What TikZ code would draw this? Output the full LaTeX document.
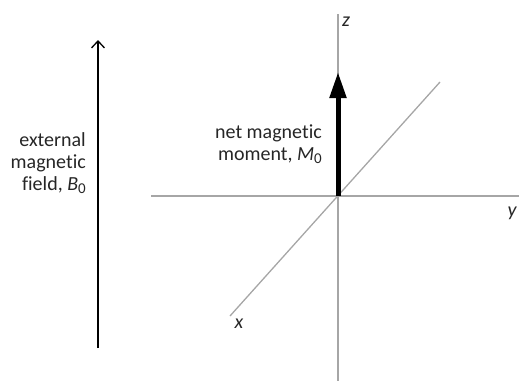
\documentclass[tikz,border=0pt]{standalone}
\usepackage{fontspec}
\setmainfont{Carlito}[Ligatures=NoCommon]
\usetikzlibrary{arrows.meta}
\newcommand{\subnum}[1]{\raisebox{-0.3ex}{\fontsize{15}{15}\selectfont #1}}
\tikzset{
  axisline/.style={draw=gray!70, line width=1.3pt},
  fieldarrow/.style={draw=black, line width=1.3pt, -{Straight Barb[length=7pt, width=13pt, line width=1.3pt]}},
  momentarrow/.style={draw=black, line width=5pt, -{Triangle[length=26pt, width=16pt]}},
  lbl/.style={inner sep=0pt, text=black!85, font=\fontsize{20}{22.3}\selectfont, align=right},
  axlbl/.style={inner sep=0pt, text=black!85, font=\fontsize{20}{23}\selectfont\itshape}
}
\begin{document}
\begin{tikzpicture}[x=1pt, y=-1pt]
  \useasboundingbox (0,0) rectangle (519,381);
  % 1. key points of the frame
  \coordinate (O) at (338,196);
  \coordinate (zTop) at (338,14);
  \coordinate (zBot) at (338,381);
  \coordinate (yLeft) at (151,196);
  \coordinate (yRight) at (519,196);
  \coordinate (xEnd) at (230,316);
  \coordinate (xBack) at (440,82);
  \coordinate (Mtip) at (338,72);
  \coordinate (Bbot) at (98,348);
  \coordinate (Btop) at (98,40);

  % 2. axes
  \draw[axisline] (yLeft) -- (yRight);
  \draw[axisline] (zTop) -- (zBot);
  \draw[axisline] (xEnd) -- (xBack);
  \node[axlbl] (zlab) at (346,22) {z};
  \node[axlbl] (ylab) at (512,213) {y};
  \node[axlbl] (xlab) at (239,324) {x};

  % 3. external field and net moment
  \draw[fieldarrow] (Bbot) -- (Btop);
  \node[lbl, anchor=east] (Blab) at (86,163) {external\\magnetic\\field, \textit{B}\subnum{0}};
  \draw[momentarrow] (O) -- (Mtip);
  \node[lbl, anchor=east] (Mlab) at (322,144) {net magnetic\\moment, \textit{M}\subnum{0}};
\end{tikzpicture}
\end{document}
